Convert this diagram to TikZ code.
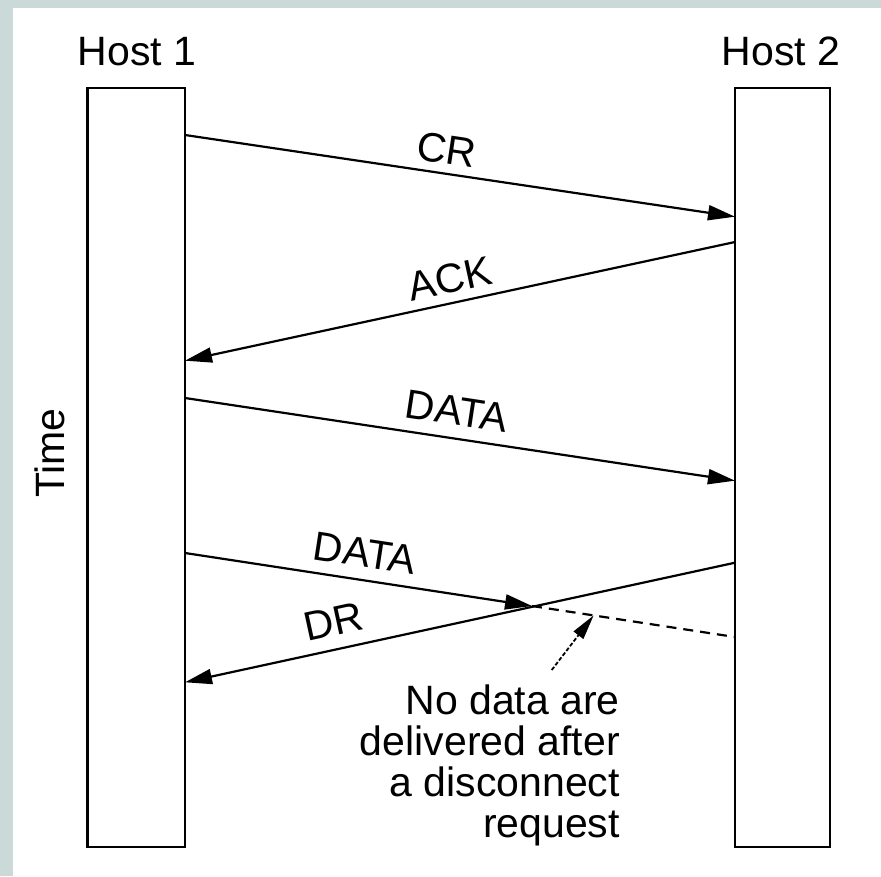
\documentclass[tikz,border=0pt]{standalone}
\usepackage{fontspec}
\setmainfont{Liberation Sans}
\usetikzlibrary{arrows.meta,calc}
\definecolor{bordergray}{rgb}{0.80,0.85,0.85}
\begin{document}
\begin{tikzpicture}[x=1pt,y=-1pt,
  hostbox/.style={draw, line width=2.2pt, inner sep=0pt, outer sep=0pt, minimum height=759pt},
  msg/.style={line width=2.2pt, -{Triangle[length=27pt,width=15pt]}},
  lbl/.style={font=\fontsize{41}{41}\selectfont, inner sep=0pt},
  lost/.style={line width=2.2pt, dash pattern=on 10pt off 7pt},
  pointer/.style={line width=1.8pt, dash pattern=on 4pt off 2pt, -{Triangle[length=25pt,width=12pt]}}]
\useasboundingbox (0,0) rectangle (881,876);
\fill[bordergray] (0,0) rectangle (881,876);
\fill[white] (13,8) rectangle (881,876);

\node[hostbox, minimum width=97.5pt] (h1) at (136.25,467.5) {};
\node[hostbox, minimum width=95pt] (h2) at (782.5,467.5) {};
\node[lbl, anchor=base] (t1) at (137,65) {Host 1};
\node[lbl, anchor=base] (t2) at (781,65) {Host 2};
\node[lbl, rotate=90] (time) at (50,453) {Time};

\coordinate (crs) at ($(h1.north east)+(0,47)$);
\coordinate (cre) at ($(h2.north west)+(0,128.7)$);
\coordinate (acks) at ($(h2.north west)+(0,154)$);
\coordinate (acke) at ($(h1.north east)+(0,272.7)$);
\coordinate (d1s) at ($(h1.north east)+(0,310)$);
\coordinate (d1e) at ($(h2.north west)+(0,392.7)$);
\coordinate (d2s) at ($(h1.north east)+(0,465)$);
\coordinate (d2e) at ($(h2.north west)+(0,549)$);
\coordinate (drs) at ($(h2.north west)+(0,474.7)$);
\coordinate (dre) at ($(h1.north east)+(0,594.3)$);
\coordinate (d2x) at ($(d2s)!0.631!(d2e)$);
\coordinate (ptip) at ($(d2s)!0.743!(d2e)$);

\draw[msg] (crs) -- (cre);
\draw[msg] (acks) -- (acke);
\draw[msg] (d1s) -- (d1e);
\draw[msg] (d2s) -- (d2x);
\draw[lost] (d2x) -- (d2e);
\draw[msg] (drs) -- (dre);

\node[lbl, rotate=-8.5] (lcr) at (447,150) {CR};
\node[lbl, rotate=12.2] (lack) at (450,279) {ACK};
\node[lbl, rotate=-8.6] (ld1) at (457,411) {DATA};
\node[lbl, rotate=-8.7] (ld2) at (365,553) {DATA};
\node[lbl, rotate=12.3] (ldr) at (333,621.5) {DR};

\node[lbl, anchor=north east, align=right] (note) at (620,685) {No data are\\delivered after\\a disconnect\\request};
\coordinate (pstart) at (551.7,670);
\draw[pointer] (pstart) -- (ptip);
\end{tikzpicture}
\end{document}
